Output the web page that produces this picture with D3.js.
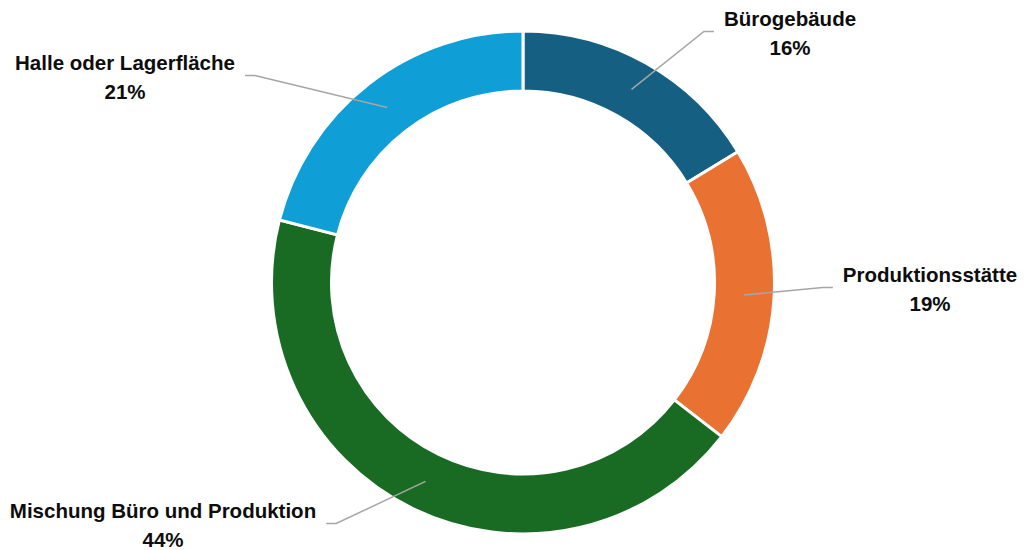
<!DOCTYPE html>
<html><head><meta charset="utf-8">
<script src="https://cdn.jsdelivr.net/npm/d3@7"></script>
<style>html,body{margin:0;padding:0;background:#fff;}svg{display:block;}</style>
</head><body>
<svg id="chart" width="1024" height="550"></svg>
<script>
// Data
const categories = ["Bürogebäude", "Produktionsstätte", "Mischung Büro und Produktion", "Halle oder Lagerfläche"];
const values = [16.3, 19.2, 43.5, 21.0];
const percentLabels = ["16%", "19%", "44%", "21%"];
const colors = ["#156082", "#E97132", "#196B24", "#0F9ED5"];

// Layout (label anchors relative to donut centre: line-1 centre x, line-1 baseline y; side of text)
const labelLayout = [
  {dx: 267, dy: -257, side: "right"},
  {dx: 407, dy: -1, side: "right"},
  {dx: -360, dy: 235, side: "left"},
  {dx: -398, dy: -213, side: "left"}
];

const W = 1024, H = 550;
const cx = 523, cy = 282.5, rOuter = 251.5, rInner = 191.5;
const svg = d3.select("#chart");
const g = svg.append("g").attr("transform", `translate(${cx},${cy})`);

const pie = d3.pie().sort(null).value(d => d.value);
const arcs = pie(categories.map((c, i) => ({name: c, value: values[i], pct: percentLabels[i], color: colors[i], layout: labelLayout[i]})));
const arc = d3.arc().innerRadius(rInner).outerRadius(rOuter);

g.selectAll("path.slice").data(arcs).enter().append("path")
  .attr("class", "slice")
  .attr("d", arc)
  .attr("fill", d => d.data.color)
  .attr("stroke", "#fff")
  .attr("stroke-width", 3)
  .attr("stroke-linejoin", "miter");

const fontFamily = "'Liberation Sans', Arial, sans-serif";
const lineGap = 29;
const labels = g.selectAll("g.label").data(arcs).enter().append("g").attr("class", "label");

labels.each(function(d) {
  const L = d.data.layout;
  const gl = d3.select(this);
  const t = gl.append("text")
    .attr("text-anchor", "middle")
    .attr("font-family", fontFamily)
    .attr("font-weight", "bold")
    .attr("font-size", 20.5)
    .attr("fill", "#0d0d0d");
  t.append("tspan").attr("x", L.dx).attr("y", L.dy).text(d.data.name);
  t.append("tspan").attr("x", L.dx).attr("y", L.dy + lineGap).text(d.data.pct);
  const w = t.select("tspan").node().getComputedTextLength();
  const c = arc.centroid(d);
  const ey = L.dy + 6;
  let ex, elx;
  if (L.side === "right") { ex = L.dx - w / 2 - 10; elx = ex - 10; }
  else { ex = L.dx + w / 2 + 10; elx = ex + 10; }
  gl.insert("path", "text")
    .attr("d", d3.line()([c, [elx, ey], [ex, ey]]))
    .attr("fill", "none")
    .attr("stroke", "#a6a6a6")
    .attr("stroke-width", 1.5);
});
</script>
</body></html>
